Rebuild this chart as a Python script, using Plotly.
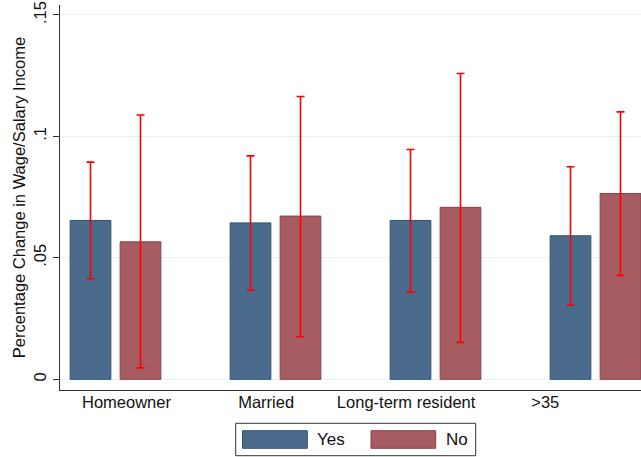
import plotly.graph_objects as go

# ---- data ----
categories = ["Homeowner", "Married", "Long-term resident", ">35"]
label_pos = [1.9, 5.39, 8.89, 12.37]

yes_x = [1, 5, 9, 13]
no_x = [2.25, 6.25, 10.25, 14.25]

yes_mean = [0.0654, 0.0644, 0.0654, 0.0591]
yes_hi = [0.0894, 0.0920, 0.0946, 0.0875]
yes_lo = [0.0414, 0.0367, 0.0360, 0.0305]

no_mean = [0.0566, 0.0672, 0.0708, 0.0765]
no_hi = [0.1088, 0.1164, 0.1259, 0.1101]
no_lo = [0.0047, 0.0175, 0.0152, 0.0428]

y_ticks = [0, 0.05, 0.1, 0.15]
y_ticklabels = ["0", ".05", ".1", ".15"]

YES_FILL, YES_LINE = "#4a6b8c", "#2f5274"
NO_FILL, NO_LINE = "#a65c61", "#8c3f47"
FONT = "Liberation Sans, Arial, sans-serif"

fig = go.Figure()
fig.add_trace(go.Bar(
    x=yes_x, y=yes_mean, name="Yes", width=1.0175,
    marker=dict(color=YES_FILL, line=dict(color=YES_LINE, width=1)),
    error_y=dict(type="data", symmetric=False,
                 array=[h - m for h, m in zip(yes_hi, yes_mean)],
                 arrayminus=[m - l for m, l in zip(yes_mean, yes_lo)],
                 color="#ff0000", thickness=1.6, width=4),
))
fig.add_trace(go.Bar(
    x=no_x, y=no_mean, name="No", width=1.0175,
    marker=dict(color=NO_FILL, line=dict(color=NO_LINE, width=1)),
    error_y=dict(type="data", symmetric=False,
                 array=[h - m for h, m in zip(no_hi, no_mean)],
                 arrayminus=[m - l for m, l in zip(no_mean, no_lo)],
                 color="#ff0000", thickness=1.6, width=4),
))

# plot area in pixels: x 60..641, y 5..390
PL, PR, PT, PB = 60, 641, 5, 390
def px(xp):
    return (xp - PL) / (PR - PL)
def py(yp):
    return (PB - yp) / (PB - PT)

# manual legend (wide swatches like the original)
shapes = [
    dict(type="rect", xref="paper", yref="paper",
         x0=px(235.7), x1=px(475.7), y0=py(455.7), y1=py(423.3),
         line=dict(color="#333333", width=1), fillcolor="white", layer="above"),
    dict(type="rect", xref="paper", yref="paper",
         x0=px(242.5), x1=px(307.3), y0=py(448.3), y1=py(430.7),
         line=dict(color=YES_LINE, width=1), fillcolor=YES_FILL, layer="above"),
    dict(type="rect", xref="paper", yref="paper",
         x0=px(371), x1=px(435.7), y0=py(448.3), y1=py(430.7),
         line=dict(color=NO_LINE, width=1), fillcolor=NO_FILL, layer="above"),
]
annotations = [
    dict(text="Yes", xref="paper", yref="paper", x=px(315), y=py(439.5),
         xanchor="left", yanchor="middle", showarrow=False,
         font=dict(family=FONT, size=17, color="#111111")),
    dict(text="No", xref="paper", yref="paper", x=px(444), y=py(439.5),
         xanchor="left", yanchor="middle", showarrow=False,
         font=dict(family=FONT, size=17, color="#111111")),
]

fig.update_layout(
    width=641, height=457,
    margin=dict(l=PL, r=641 - PR, t=PT, b=457 - PB, pad=0, autoexpand=False),
    paper_bgcolor="white", plot_bgcolor="white",
    barmode="overlay", showlegend=False,
    font=dict(family=FONT, size=16, color="#111111"),
    shapes=shapes, annotations=annotations,
    xaxis=dict(range=[0.2375, 14.7625], tickmode="array", automargin=False,
               tickvals=label_pos, ticktext=categories, ticks="",
               ticklabelstandoff=-3,
               showgrid=False, zeroline=False, showline=True,
               linecolor="#333333", linewidth=1,
               tickfont=dict(family=FONT, size=16.5)),
    yaxis=dict(range=[-0.0044, 0.1541], tickmode="array", automargin=False,
               tickvals=y_ticks, ticktext=y_ticklabels, tickangle=-90,
               ticks="outside", ticklen=6, tickcolor="#333333",
               showgrid=True, gridcolor="#eaf1f3", gridwidth=1,
               zeroline=False, showline=True, linecolor="#333333", linewidth=1,
               tickfont=dict(family=FONT, size=16.5),
               title=dict(text="Percentage Change in Wage/Salary Income",
                          font=dict(family=FONT, size=16.5), standoff=1)),
)

fig.write_html("out.html", config={"displayModeBar": False},
               post_script="document.body.style.margin='0';document.body.style.overflow='hidden';")
